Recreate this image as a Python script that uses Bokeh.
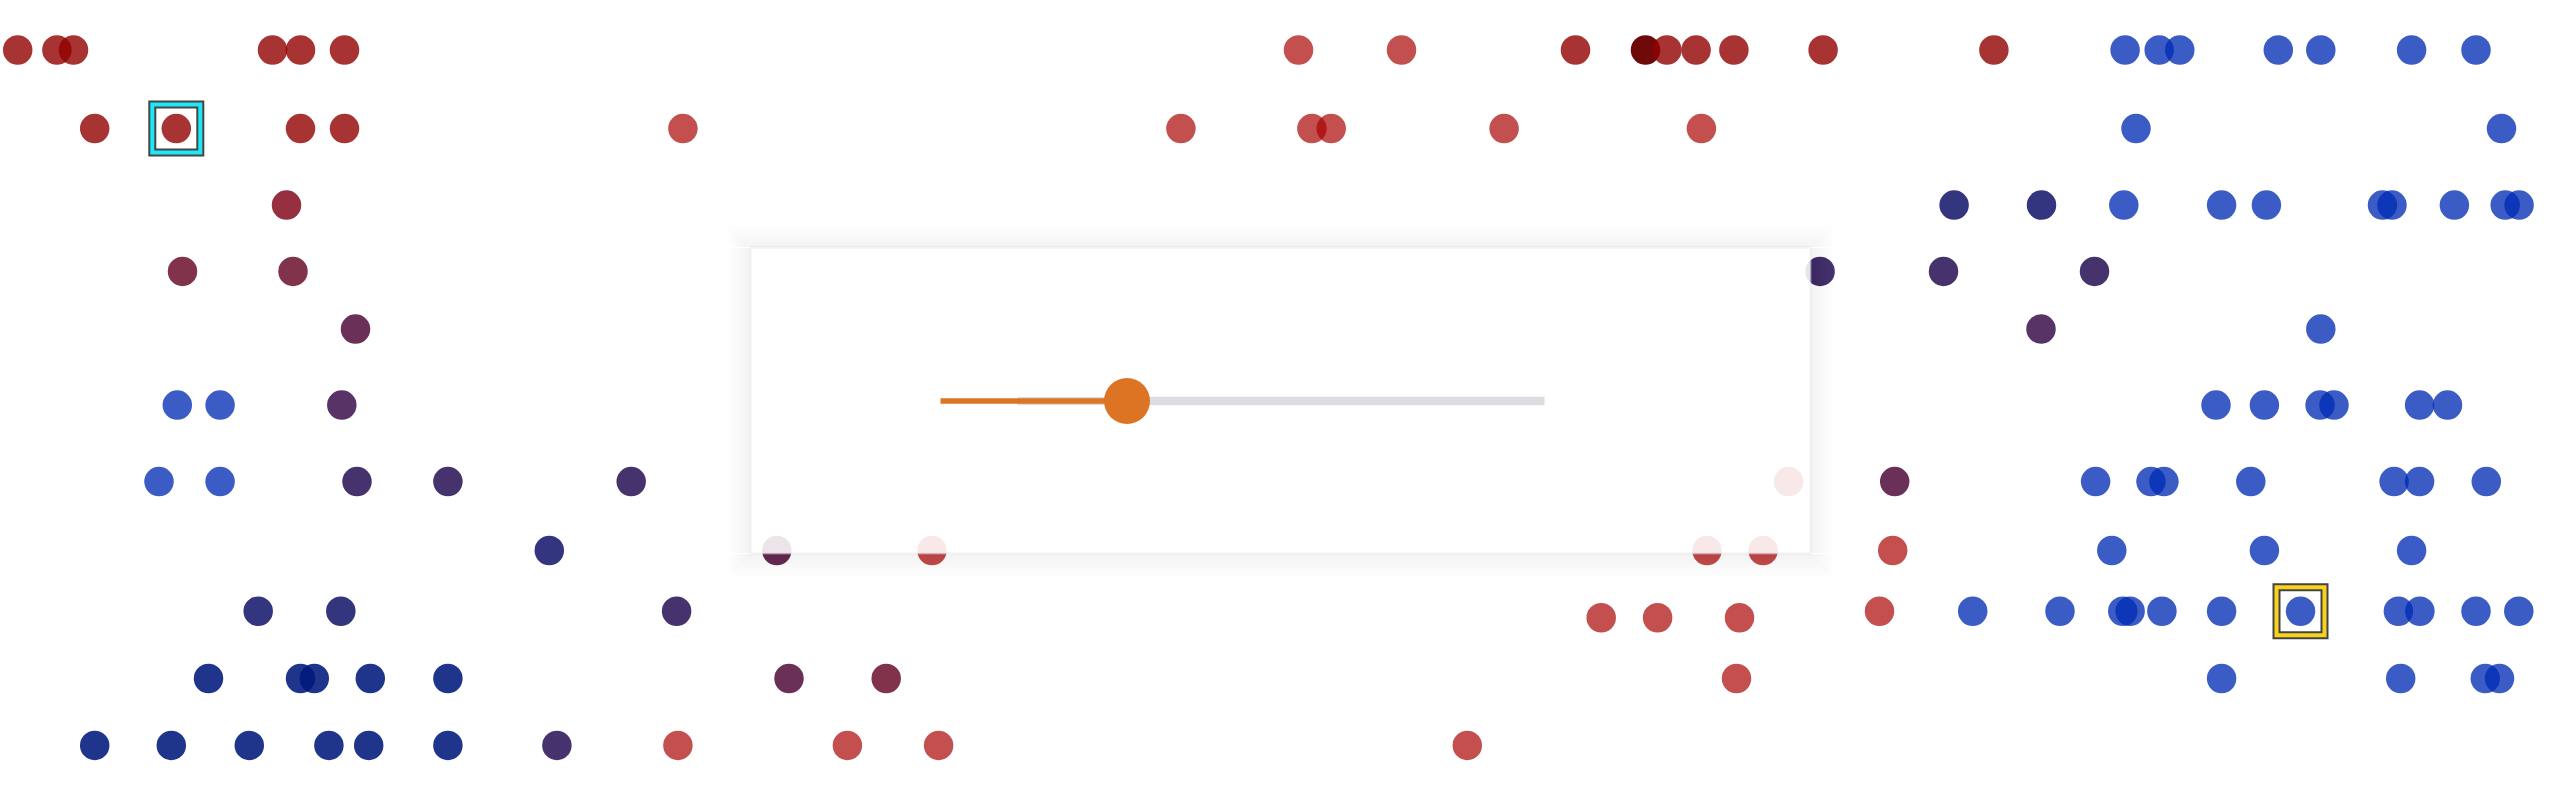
from bokeh.plotting import figure
from bokeh.models import ColumnDataSource, Range1d, BoxAnnotation
from bokeh.embed import file_html
from bokeh.resources import INLINE

# ---------------- data ----------------
# colour classes (tone index -> colour, alpha): light red, red, ... purple ..., navy, bright blue, deep red
tone_colors = ["#aa0000", "#920000", "#7e0014", "#61001e", "#480030",
               "#2d0040", "#18004a", "#00025f", "#00197c", "#002bb3", "#680000"]
tone_alphas = [0.69, 0.80, 0.81, 0.80, 0.81, 0.80, 0.80, 0.80, 0.88, 0.77, 0.96]

row_y = {"A": 49.5, "B": 128.1, "C": 204.6, "D": 270.9, "E": 328.6, "F": 404.6,
         "G": 481.1, "H": 550.0, "I": 610.7, "I2": 617.3, "J": 678.0, "K": 744.9}

row_a_x = [17.2, 56.4, 73.0, 272.0, 300.0, 344.0, 1298.0, 1401.0, 1575.0, 1645.0,
           1666.4, 1695.6, 1733.4, 1822.6, 1993.4, 2124.6, 2158.7, 2179.3, 2277.8, 2320.3,
           2411.1, 2475.5]
row_a_t = [1, 1, 1, 1, 1, 1, 0, 0, 1, 10, 1, 1, 1, 1, 1, 9, 9, 9, 9, 9, 9, 9]

row_b_x = [94.2, 175.8, 300.0, 344.0, 682.4, 1180.4, 1311.4, 1330.7, 1503.6, 1700.9, 2135.5, 2501.0]
row_b_t = [1, 1, 1, 1, 0, 0, 0, 0, 0, 0, 9, 9]

row_c_x = [286.0, 1953.6, 2041.0, 2123.3, 2221.1, 2265.9, 2382.0, 2391.5, 2453.9, 2504.7, 2518.6]
row_c_t = [2, 7, 7, 9, 9, 9, 9, 9, 9, 9, 9]

row_d_x = [182.0, 292.5, 1819.6, 1943.0, 2094.0]
row_d_t = [3, 3, 6, 6, 6]

row_e_x = [355.0, 2040.5, 2320.3]
row_e_t = [4, 5, 9]

row_f_x = [176.8, 219.6, 341.3, 2215.5, 2263.9, 2319.6, 2333.5, 2419.1, 2447.0]
row_f_t = [9, 9, 5, 9, 9, 9, 9, 9, 9]

row_g_x = [158.5, 219.6, 356.5, 447.4, 630.7, 1788.1, 1894.2, 2095.1, 2150.5, 2163.4,
           2250.3, 2393.6, 2419.1, 2485.8]
row_g_t = [9, 9, 6, 6, 6, 0, 4, 9, 9, 9, 9, 9, 9, 9]

row_h_x = [548.8, 776.3, 931.5, 1706.5, 1762.6, 1892.2, 2111.3, 2263.9, 2411.1]
row_h_t = [7, 4, 0, 0, 0, 0, 9, 9, 9]

row_i_x = [257.7, 340.3, 676.1, 1879.0, 1972.2, 2059.5, 2122.3, 2129.6, 2161.4, 2221.1,
           2300.0, 2397.9, 2419.4, 2475.5, 2518.3]
row_i_t = [7, 7, 6, 0, 9, 9, 9, 9, 9, 9, 9, 9, 9, 9, 9]

row_i2_x = [1600.7, 1657.1, 1739.0]
row_i2_t = [0, 0, 0]

row_j_x = [208.0, 300.0, 313.8, 369.8, 447.4, 788.5, 885.7, 1736.0, 2221.1, 2400.2, 2484.8, 2499.0]
row_j_t = [8, 8, 8, 8, 8, 4, 3, 0, 9, 9, 9, 9]

row_k_x = [94.2, 170.8, 248.8, 328.4, 368.2, 447.4, 556.4, 677.4, 846.9, 938.1, 1466.8]
row_k_t = [8, 8, 8, 8, 8, 8, 6, 0, 0, 0, 0]

# highlighted (selected) points
highlight_x = [175.8, 2300.0]
highlight_y = [128.1, 610.7]
highlight_colors = ["#1ee8f7", "#f8d21c"]

# slider overlay (panel box and slider state)
panel_left, panel_right, panel_top, panel_bottom = 750.0, 1810.0, 247.0, 553.0
slider_y = 400.5
slider_track = (1017.0, 1544.0)
slider_bar_start = 940.0
slider_value = 1126.5

# ---------------- assemble ----------------
rows = [("A", row_a_x, row_a_t), ("B", row_b_x, row_b_t), ("C", row_c_x, row_c_t),
        ("D", row_d_x, row_d_t), ("E", row_e_x, row_e_t), ("F", row_f_x, row_f_t),
        ("G", row_g_x, row_g_t), ("H", row_h_x, row_h_t), ("I", row_i_x, row_i_t),
        ("I2", row_i2_x, row_i2_t), ("J", row_j_x, row_j_t), ("K", row_k_x, row_k_t)]
xs, ys, cols, alphas = [], [], [], []
for key, rx, rt in rows:
    for xv, tv in zip(rx, rt):
        xs.append(xv)
        ys.append(row_y[key])
        cols.append(tone_colors[tv])
        alphas.append(tone_alphas[tv])
src = ColumnDataSource(dict(x=xs, y=ys, color=cols, alpha=alphas))

W, H = 2561, 801
p = figure(width=W, height=H, x_range=Range1d(0, W), y_range=Range1d(H, 0),
           output_backend="svg", toolbar_location=None, min_border=0,
           x_axis_type=None, y_axis_type=None)
p.outline_line_color = None
p.background_fill_color = "white"
p.border_fill_color = "white"

p.scatter("x", "y", source=src, size=29.5, fill_color="color", fill_alpha="alpha", line_color=None)

hsrc = ColumnDataSource(dict(x=highlight_x, y=highlight_y, color=highlight_colors))
p.scatter("x", "y", source=hsrc, marker="square", size=48, fill_color=None,
          line_color="#444444", line_width=8, line_join="miter")
p.scatter("x", "y", source=hsrc, marker="square", size=48, fill_color=None,
          line_color="color", line_width=4, line_join="miter")

# soft shadow around the panel: rings of thin strips outside the panel only
def shadow_strip(l, r, t, b):
    p.add_layout(BoxAnnotation(left=l, right=r, top=t, bottom=b,
                               fill_color="black", fill_alpha=0.0045, line_color=None))

for k in range(1, 13):
    d = 2 * k
    sl, sr = panel_left - d, panel_right + d
    st, sb = panel_top - d + 1, panel_bottom + d + 1
    shadow_strip(sl, sr, st, panel_top)            # above
    shadow_strip(sl, sr, panel_bottom, sb)         # below
    shadow_strip(sl, panel_left, panel_top, panel_bottom)   # left
    shadow_strip(panel_right, sr, panel_top, panel_bottom)  # right

p.add_layout(BoxAnnotation(left=panel_left, right=panel_right, top=panel_top, bottom=panel_bottom,
                           fill_color="white", fill_alpha=0.87,
                           line_color="#dcdce1", line_width=2.5))

# slider drawn above the panel
p.segment(x0=[slider_track[0]], y0=[slider_y], x1=[slider_track[1]], y1=[slider_y],
          line_color="#dcdde2", line_width=8.5, line_cap="butt", level="overlay")
p.segment(x0=[slider_bar_start], y0=[slider_y], x1=[slider_value], y1=[slider_y],
          line_color="#dc7423", line_width=5.5, line_cap="butt", level="overlay")
p.scatter([slider_value], [slider_y], size=46, fill_color="#dc7423", line_color=None,
          level="overlay")

open("out.html", "w").write(file_html(p, INLINE))
